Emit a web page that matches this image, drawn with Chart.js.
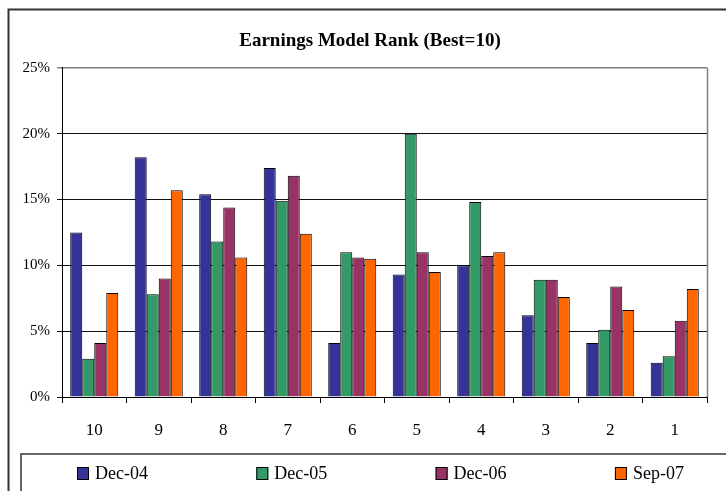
<!DOCTYPE html>
<html>
<head>
<meta charset="utf-8">
<script src="https://cdn.jsdelivr.net/npm/chart.js@4/dist/chart.umd.min.js"></script>
<style>
  body { margin: 0; background: #fff; }
  #wrap { width: 726px; height: 491px; }
</style>
</head>
<body>
<div id="wrap"><canvas id="rankChart" width="726" height="491"></canvas></div>
<script>
// Earnings model rank distribution (% of names in each rank bucket)
const ranks = ['10', '9', '8', '7', '6', '5', '4', '3', '2', '1'];
const seriesNames = ['Dec-04', 'Dec-05', 'Dec-06', 'Sep-07'];
const dec04 = [12.5, 18.2, 15.4, 17.4, 4.1, 9.3, 10.0, 6.2, 4.1, 2.6];
const dec05 = [2.9, 7.8, 11.8, 14.9, 11.0, 20.0, 14.8, 8.9, 5.1, 3.1];
const dec06 = [4.1, 9.0, 14.4, 16.8, 10.6, 11.0, 10.7, 8.9, 8.4, 5.8];
const sep07 = [7.9, 15.7, 10.6, 12.4, 10.5, 9.5, 11.0, 7.6, 6.6, 8.2];
const yTicks = [0, 5, 10, 15, 20, 25];

const colors = ['#333399', '#339966', '#993366', '#FF6600'];
const serif = 'Liberation Serif, Times New Roman, serif';

// frame, plot border and the boxed legend (Excel style)
const framePlugin = {
  id: 'frame',
  afterLayout(chart) {
    // original title is centred a bit right of the canvas middle
    if (chart.titleBlock) {
      chart.titleBlock.left = 33;
    }
  },
  afterDraw(chart) {
    const ctx = chart.ctx;
    const area = chart.chartArea;
    ctx.save();
    // outer chart border
    ctx.strokeStyle = '#333';
    ctx.lineWidth = 2;
    ctx.strokeRect(8.5, 9.5, 800, 600);
    // right side of the plot area
    ctx.strokeStyle = '#808080';
    ctx.lineWidth = 1.5;
    ctx.beginPath();
    ctx.moveTo(Math.round(area.right) + 0.5, area.top);
    ctx.lineTo(Math.round(area.right) + 0.5, area.bottom);
    ctx.stroke();
    // legend box
    ctx.strokeStyle = '#666';
    ctx.lineWidth = 2;
    ctx.strokeRect(21, 454, 800, 100);
    // legend entries
    ctx.font = '18px ' + serif;
    ctx.textBaseline = 'middle';
    ctx.textAlign = 'left';
    chart.data.datasets.forEach((ds, i) => {
      const x = 77 + i * 179.3;
      ctx.fillStyle = ds.backgroundColor;
      ctx.fillRect(x, 467, 12, 13);
      ctx.strokeStyle = '#000';
      ctx.lineWidth = 1;
      ctx.strokeRect(x + 0.5, 467.5, 11, 12);
      ctx.fillStyle = '#000';
      ctx.fillText(ds.label, x + 18, 474);
    });
    ctx.restore();
  }
};

const allSeries = [dec04, dec05, dec06, sep07];

new Chart(document.getElementById('rankChart'), {
  type: 'bar',
  data: {
    labels: ranks,
    datasets: allSeries.map((vals, i) => ({
      label: seriesNames[i],
      data: vals,
      backgroundColor: colors[i],
      borderColor: '#000',
      borderWidth: 1,
      categoryPercentage: 0.745,
      barPercentage: 1.0
    }))
  },
  options: {
    responsive: false,
    animation: false,
    layout: { padding: { left: 0, right: 19, top: 0, bottom: 0 } },
    plugins: {
      legend: { display: false },
      tooltip: { enabled: false },
      title: {
        display: true,
        text: 'Earnings Model Rank (Best=10)',
        color: '#000',
        font: { family: serif, size: 19, weight: 'bold' },
        padding: { top: 30, bottom: 15 }
      }
    },
    scales: {
      x: {
        grid: { display: true, drawOnChartArea: false, drawTicks: true, tickLength: 6, color: '#000', offset: true },
        border: { color: '#000', width: 1 },
        ticks: { color: '#000', font: { family: serif, size: 17 }, padding: 17 },
        afterFit(scale) { scale.height = 94; }
      },
      y: {
        min: 0,
        max: 25,
        afterBuildTicks(scale) { scale.ticks = yTicks.map(v => ({ value: v })); },
        grid: {
          color: ctx => (ctx.tick && ctx.tick.value === 25) ? '#808080' : '#111',
          lineWidth: ctx => (ctx.tick && ctx.tick.value === 25) ? 1.5 : 1,
          tickLength: 5
        },
        border: { color: '#000', width: 1 },
        ticks: {
          color: '#000',
          font: { family: serif, size: 15 },
          padding: 7,
          callback: v => v + '%'
        },
        afterFit(scale) { scale.width = 62; }
      }
    }
  },
  plugins: [framePlugin]
});
</script>
</body>
</html>
